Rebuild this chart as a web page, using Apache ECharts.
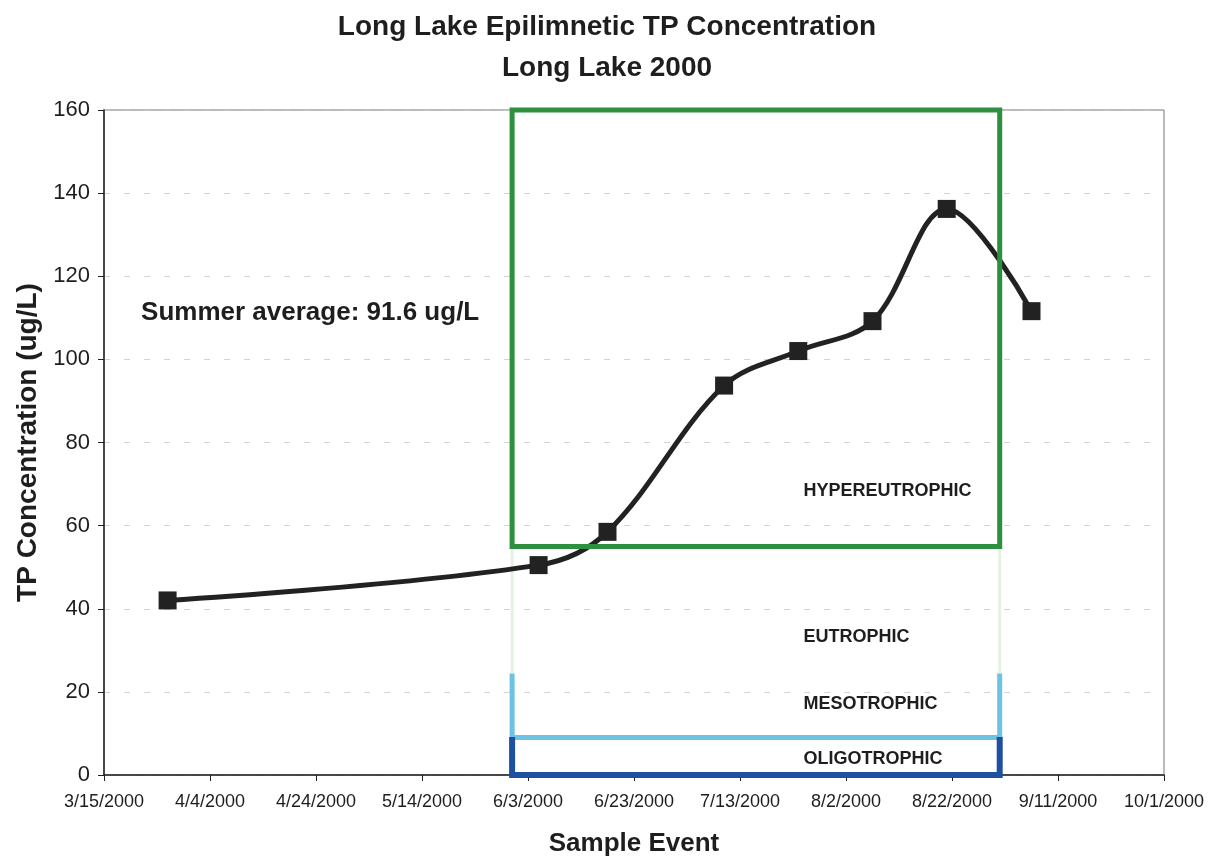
<!DOCTYPE html>
<html><head><meta charset="utf-8">
<script src="https://cdn.jsdelivr.net/npm/echarts@6/dist/echarts.min.js"></script>
<style>html,body{margin:0;padding:0;background:#fff}#c{width:1214px;height:863px}</style>
</head><body><div id="c"></div>
<script>
// ---- data ----
const sampleDates = ['3/27/2000','6/5/2000','6/18/2000','7/10/2000','7/24/2000','8/7/2000','8/21/2000','9/6/2000'];
const tpValues = [42, 50.5, 58.5, 93.7, 102, 109.2, 136.2, 111.6];
const axisStart = '3/15/2000';
const axisEnd = '10/1/2000';
const tickDays = 20;
const yMin = 0, yMax = 160, yStep = 20;
const zoneDates = ['5/31/2000', '8/31/2000'];
const hyperRange = [55, 160];
const eutroRange = [24, 55];
const mesoRange = [9, 23.8];
const oligoRange = [0, 8.4];
const trophicLabels = ['HYPEREUTROPHIC', 'EUTROPHIC', 'MESOTROPHIC', 'OLIGOTROPHIC'];
const trophicLabelY = [68.3, 33.2, 17.1, 3.9];
const trophicLabelDate = '7/25/2000';
const summerText = 'Summer average: 91.6 ug/L';
const summerDate = '3/22/2000';
const summerY = 111.2;
const titleLines = ['Long Lake Epilimnetic TP Concentration', 'Long Lake 2000'];
const xTitle = 'Sample Event';
const yTitle = 'TP Concentration (ug/L)';

// ---- helpers ----
function parseMDY(s) { const p = s.split('/').map(Number); return Date.UTC(p[2], p[0] - 1, p[1]); }
const base = parseMDY(axisStart);
function toDay(s) { return Math.round((parseMDY(s) - base) / 86400000); }
function dayLabel(d) {
  const dt = new Date(base + d * 86400000);
  return (dt.getUTCMonth() + 1) + '/' + dt.getUTCDate() + '/' + dt.getUTCFullYear();
}

const pts = sampleDates.map((d, i) => [toDay(d), tpValues[i]]);
const zx0 = toDay(zoneDates[0]), zx1 = toDay(zoneDates[1]);

function boxSeries(data, color, width, z) {
  return {
    type: 'line', data: data, showSymbol: false, symbol: 'none', clip: false, z: z,
    lineStyle: { color: color, width: width, join: 'miter', cap: 'square' },
    silent: true, animation: false
  };
}

const txt = '#1e1e1e';
const font = 'Liberation Sans, Arial, sans-serif';
const option = {
  animation: false,
  backgroundColor: '#fff',
  title: {
    text: titleLines.join('\n'),
    left: 'center', top: 2,
    textStyle: { fontFamily: font, fontSize: 28, fontWeight: 'bold', color: txt, lineHeight: 41 }
  },
  grid: { left: 104, right: 50, top: 110, bottom: 88, show: true, borderColor: '#777', borderWidth: 1, containLabel: false },
  xAxis: {
    type: 'value', min: 0, max: toDay(axisEnd), interval: tickDays,
    name: xTitle, nameLocation: 'middle', nameGap: 56,
    nameTextStyle: { fontFamily: font, fontSize: 26, fontWeight: 'bold', color: txt },
    axisLine: { show: true, lineStyle: { color: '#222', width: 1.5 } },
    axisTick: { show: true, inside: false, length: 6, lineStyle: { color: '#222' } },
    axisLabel: { formatter: v => dayLabel(v), fontFamily: font, fontSize: 18, color: txt, margin: 18, showMinLabel: true, showMaxLabel: true },
    splitLine: { show: false }
  },
  yAxis: {
    type: 'value', min: yMin, max: yMax, interval: yStep,
    name: yTitle, nameLocation: 'middle', nameGap: 60, nameRotate: 90,
    nameTextStyle: { fontFamily: font, fontSize: 28, fontWeight: 'bold', color: txt },
    axisLine: { show: true, lineStyle: { color: '#222', width: 1.5 } },
    axisTick: { show: true, inside: false, length: 6, lineStyle: { color: '#222' } },
    axisLabel: { fontFamily: font, fontSize: 22, color: txt, margin: 14 },
    splitLine: { show: true, lineStyle: { color: '#c8c8c8', width: 1, type: [6, 14], opacity: 0.8 } }
  },
  series: [
    {
      type: 'line', data: pts, smooth: 0.35, showSymbol: false, symbol: 'none', z: 2, clip: false,
      lineStyle: { color: '#222', width: 5 }
    },
    boxSeries([[zx0, eutroRange[0]], [zx0, eutroRange[1]]], '#e4f2e4', 3, 1),
    boxSeries([[zx1, eutroRange[0]], [zx1, eutroRange[1]]], '#e4f2e4', 3, 1),
    boxSeries([[zx0, hyperRange[0]], [zx0, hyperRange[1]], [zx1, hyperRange[1]], [zx1, hyperRange[0]], [zx0, hyperRange[0]]], '#2e8f3e', 5, 3),
    boxSeries([[zx0, mesoRange[1]], [zx0, mesoRange[0]], [zx1, mesoRange[0]], [zx1, mesoRange[1]]], '#6cc3e3', 5, 3),
    boxSeries([[zx0, oligoRange[1]], [zx0, oligoRange[0]], [zx1, oligoRange[0]], [zx1, oligoRange[1]]], '#1d50a0', 6, 3),
    {
      type: 'scatter', data: pts, symbol: 'rect', symbolSize: 18, z: 5,
      itemStyle: { color: '#222', opacity: 1 }
    },
    {
      type: 'scatter', symbolSize: 0, z: 6, silent: true,
      itemStyle: { opacity: 1 },
      data: trophicLabels.map((t, i) => ({ value: [toDay(trophicLabelDate), trophicLabelY[i]], name: t })),
      label: { show: true, position: 'right', distance: 0, formatter: p => p.name, opacity: 1,
        fontFamily: font, fontSize: 18, fontWeight: 'bold', color: txt }
    },
    {
      type: 'scatter', symbolSize: 0, z: 6, silent: true,
      itemStyle: { opacity: 1 },
      data: [{ value: [toDay(summerDate), summerY], name: summerText }],
      label: { show: true, position: 'right', distance: 0, formatter: p => p.name, opacity: 1,
        fontFamily: font, fontSize: 26, fontWeight: 'bold', color: txt }
    }
  ]
};
const chart = echarts.init(document.getElementById('c'), null, { renderer: 'canvas' });
chart.setOption(option);
</script>
</body></html>
